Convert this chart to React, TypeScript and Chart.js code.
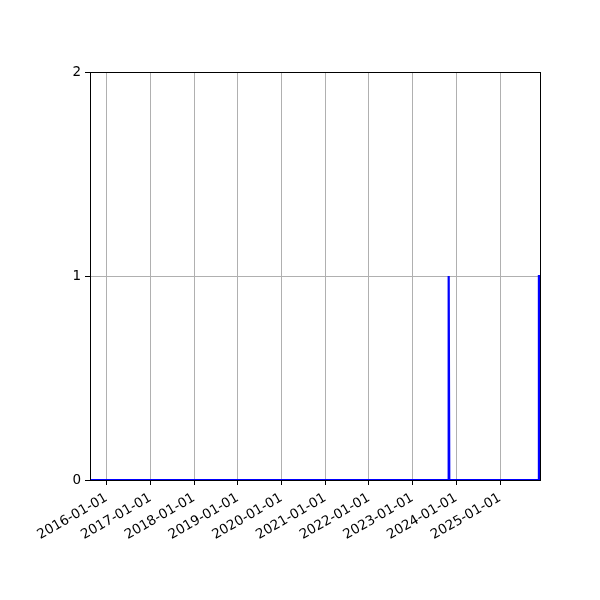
import React, { useEffect, useRef } from "react";
import { Chart, registerables } from "chart.js";

Chart.register(...registerables);

const dates = ["2015-08-16", "2023-10-25", "2023-10-30", "2023-11-04", "2025-11-17", "2025-11-22", "2025-12-01"];
const counts = [0, 0, 1, 0, 0, 1, 1];
const yearTicks = ["2016-01-01", "2017-01-01", "2018-01-01", "2019-01-01", "2020-01-01", "2021-01-01", "2022-01-01", "2023-01-01", "2024-01-01", "2025-01-01"];
const yTicks = [0, 1, 2];

const toMs = (s: string) => {
  const [y, m, d] = s.split("-").map(Number);
  return Date.UTC(y, m - 1, d);
};
const fmt = (v: number) => {
  const d = new Date(v);
  const p = (n: number) => String(n).padStart(2, "0");
  return `${d.getUTCFullYear()}-${p(d.getUTCMonth() + 1)}-${p(d.getUTCDate())}`;
};

const frame = {
  id: "frame",
  afterDraw(chart: any) {
    const { ctx, chartArea: a } = chart;
    ctx.save();
    ctx.strokeStyle = "#000";
    ctx.lineWidth = 1;
    ctx.strokeRect(Math.round(a.left) + 0.5, Math.round(a.top) + 0.5, Math.round(a.right - a.left), Math.round(a.bottom - a.top));
    ctx.restore();
  },
};

export default function App() {
  const ref = useRef<HTMLCanvasElement>(null);
  useEffect(() => {
    document.body.style.margin = "0";
    const font = { family: "DejaVu Sans", size: 13.5 };
    const chart = new Chart(ref.current!, {
      type: "line",
      data: {
        datasets: [
          {
            data: dates.map((d, i) => ({ x: toMs(d), y: counts[i] })),
            borderColor: "#0000ff",
            borderWidth: 2.2,
            pointRadius: 0,
            tension: 0,
            fill: false,
          },
        ],
      },
      options: {
        responsive: false,
        animation: false,
        devicePixelRatio: 1,
        layout: { padding: { top: 72, right: 60, left: 0, bottom: 0 } },
        plugins: { legend: { display: false }, tooltip: { enabled: false } },
        scales: {
          x: {
            type: "linear",
            min: toMs(dates[0]),
            max: toMs(dates[dates.length - 1]),
            afterBuildTicks: (s: any) => {
              s.ticks = yearTicks.map((t) => ({ value: toMs(t) }));
            },
            afterFit: (s: any) => {
              s.height = 120;
            },
            ticks: {
              autoSkip: false,
              minRotation: 30,
              maxRotation: 30,
              color: "#000",
              font,
              padding: 5,
              callback: (v: any) => fmt(Number(v)),
            },
            grid: { color: "#b0b0b0", tickColor: "#000", tickLength: 5, lineWidth: 1 },
            border: { color: "#000" },
          },
          y: {
            type: "linear",
            min: 0,
            max: 2,
            afterBuildTicks: (s: any) => {
              s.ticks = yTicks.map((t) => ({ value: t }));
            },
            afterFit: (s: any) => {
              s.width = 90;
            },
            ticks: { color: "#000", font, padding: 4 },
            grid: { color: "#b0b0b0", tickColor: "#000", tickLength: 5, lineWidth: 1 },
            border: { color: "#000" },
          },
        },
      },
      plugins: [frame],
    });
    return () => chart.destroy();
  }, []);
  return (
    <div style={{ position: "absolute", left: 0, top: 0, width: 600, height: 600, background: "#fff" }}>
      <canvas ref={ref} width={600} height={600} />
    </div>
  );
}
